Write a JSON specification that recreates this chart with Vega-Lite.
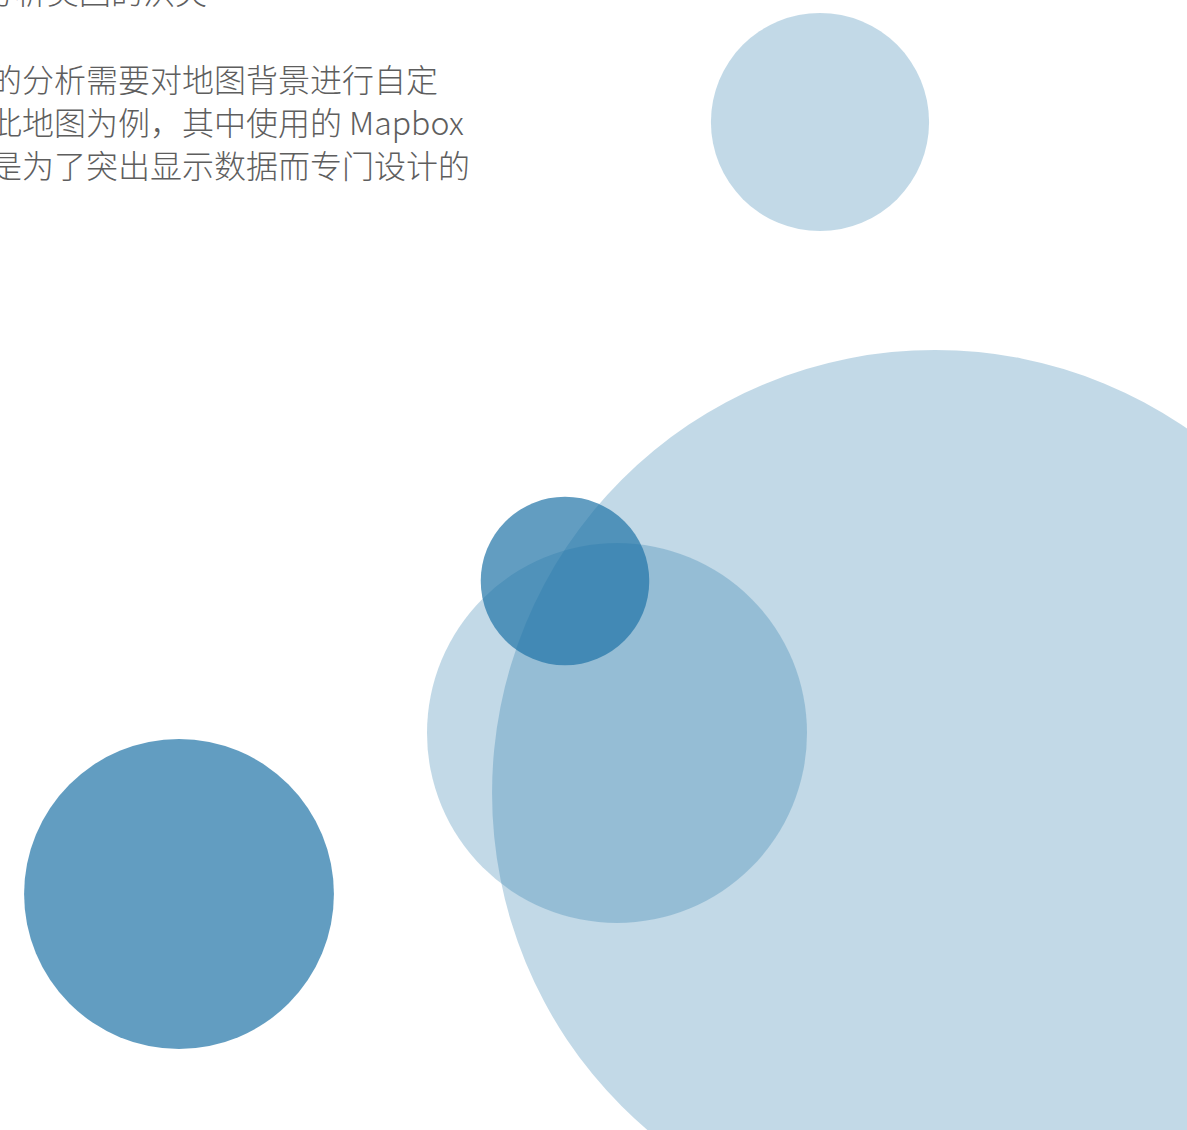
{
  "$schema": "https://vega.github.io/schema/vega-lite/v6.json",
  "width": 1187,
  "height": 1130,
  "autosize": {"type": "fit", "contains": "padding"},
  "padding": 0,
  "background": "white",
  "config": {"view": {"stroke": null}},
  "datasets": {
    "bubbles": [
      {"name": "A", "x": 935, "y": 793, "value": 1962, "group": "light"},
      {"name": "B", "x": 617, "y": 733, "value": 361, "group": "light"},
      {"name": "C", "x": 820, "y": 122, "value": 119, "group": "light"},
      {"name": "D", "x": 179, "y": 894, "value": 240, "group": "dark"},
      {"name": "E", "x": 565, "y": 581, "value": 71, "group": "dark"}
    ],
    "texts": [
      {"line": "分析美国的洪灾", "x": -17, "y": -6},
      {"line": "的分析需要对地图背景进行自定", "x": -10, "y": 82},
      {"line": "此地图为例，其中使用的 Mapbox", "x": -10, "y": 125},
      {"line": "是为了突出显示数据而专门设计的", "x": -10, "y": 168}
    ]
  },
  "layer": [
    {
      "data": {"name": "bubbles"},
      "mark": {"type": "point", "shape": "circle", "filled": true, "clip": true, "color": "#1f74a6", "strokeWidth": 0},
      "encoding": {
        "x": {"field": "x", "type": "quantitative", "scale": {"domain": [0, 1187], "nice": false, "zero": false}, "axis": null},
        "y": {"field": "y", "type": "quantitative", "scale": {"domain": [1130, 0], "nice": false, "zero": false}, "axis": null},
        "size": {"field": "value", "type": "quantitative", "scale": {"type": "linear", "domain": [0, 1000], "range": [0, 400000]}, "legend": null},
        "opacity": {"field": "group", "type": "nominal", "scale": {"domain": ["light", "dark"], "range": [0.275, 0.7]}, "legend": null}
      }
    },
    {
      "data": {"name": "texts"},
      "mark": {"type": "text", "align": "left", "baseline": "middle", "fontSize": 32, "font": "Noto Sans CJK SC", "fontWeight": 300, "color": "#5e5e5e", "clip": true},
      "encoding": {
        "x": {"field": "x", "type": "quantitative", "scale": {"domain": [0, 1187], "nice": false, "zero": false}, "axis": null},
        "y": {"field": "y", "type": "quantitative", "scale": {"domain": [1130, 0], "nice": false, "zero": false}, "axis": null},
        "text": {"field": "line"}
      }
    }
  ]
}
